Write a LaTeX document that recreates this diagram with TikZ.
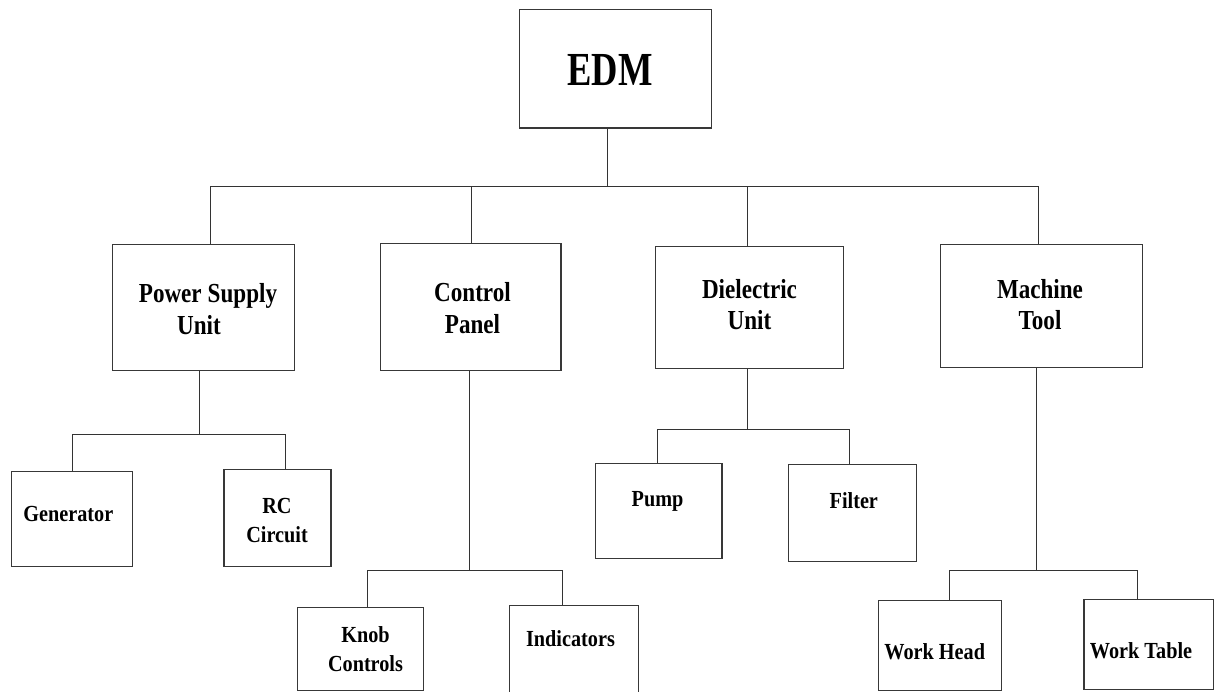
\documentclass[tikz,border=0pt]{standalone}
\usepackage{fontspec}
\setmainfont{Liberation Serif}
\newfontfamily\edmfont{Liberation Serif}[FakeStretch=0.77]
\newfontfamily\midfont{Liberation Serif}[FakeStretch=0.84]
\newfontfamily\smallfont{Liberation Serif}[FakeStretch=0.88]
\begin{document}
\begin{tikzpicture}[x=1pt,y=-1pt,
  box/.style={draw=black!78, line width=1.2pt, inner sep=0pt, anchor=north west},
  link/.style={draw=black!80, line width=1pt},
  toplbl/.style={anchor=base, inner sep=0pt, font={\edmfont\bfseries\fontsize{47.4}{50}\selectfont}},
  midlbl/.style={anchor=base, inner sep=0pt, align=center, font={\midfont\bfseries\fontsize{27.5}{31.6}\selectfont}},
  sublbl/.style={anchor=base, inner sep=0pt, align=center, font={\smallfont\bfseries\fontsize{23}{29.2}\selectfont}}]
\useasboundingbox (0,0) rectangle (1216,692);

% ---- boxes ----
\node[box, minimum width=192pt, minimum height=118.2pt] (edm) at (518.5,9.3) {};
\node[box, minimum width=182pt, minimum height=125.4pt] (psu) at (112,244.3) {};
\node[box, minimum width=180.7pt, minimum height=127pt] (cp) at (379.6,242.7) {};
\node[box, minimum width=188.6pt, minimum height=122.3pt] (du) at (654.6,245.7) {};
\node[box, minimum width=201.6pt, minimum height=122.7pt] (mt) at (939.9,244.3) {};

\node[box, minimum width=120.7pt, minimum height=95pt] (gen) at (11,471) {};
\node[box, minimum width=107pt, minimum height=96.5pt] (rc) at (223.3,469.3) {};
\node[box, minimum width=126pt, minimum height=83.3pt] (knob) at (296.7,606.7) {};
\node[box, minimum width=128.5pt, minimum height=95pt] (ind) at (509,605) {};
\node[box, minimum width=126.3pt, minimum height=95pt] (pump) at (595.1,462.7) {};
\node[box, minimum width=128.1pt, minimum height=96.4pt] (filt) at (787.8,464.3) {};
\node[box, minimum width=123pt, minimum height=90pt] (wh) at (877.7,600) {};
\node[box, minimum width=129.4pt, minimum height=90pt] (wt) at (1083.3,599) {};

% ---- labels (base anchor = baseline of the last line) ----
\node[toplbl] (edm-t) at (610.2,85.7) {EDM};
\node[midlbl] (psu-t) at (208,334.3) {Power\hspace{6pt}Supply\\Unit\hspace*{18pt}};
\node[midlbl] (cp-t) at (472.5,333.3) {Control\\Panel};
\node[midlbl] (du-t) at (749.5,330) {Dielectric\\Unit};
\node[midlbl] (mt-t) at (1040,330) {Machine\\Tool};

\node[sublbl] (gen-t) at (68.3,521.7) {Generator};
\node[sublbl] (rc-t) at (277,542.3) {RC\\Circuit};
\node[sublbl] (knob-t) at (365.5,671.7) {Knob\\Controls};
\node[sublbl] (ind-t) at (570.5,646.7) {Indicators};
\node[sublbl] (pump-t) at (657.6,506.7) {Pump};
\node[sublbl] (filt-t) at (853.8,508.3) {Filter};
\node[sublbl] (wh-t) at (934.7,659.3) {Work Head};
\node[sublbl] (wt-t) at (1141,658.3) {Work Table};

% ---- junction points ----
\coordinate (j0) at (607.8,187);
\coordinate (bl) at (210.8,187);
\coordinate (br) at (1038.9,187);
\coordinate (d-cp) at (471.7,187);
\coordinate (d-du) at (747.3,187);

\coordinate (j-psu) at (199.7,435);
\coordinate (psu-l) at (72.4,435);
\coordinate (psu-r) at (285.9,435);

\coordinate (j-cp) at (469.4,570);
\coordinate (cp-l) at (367.7,570);
\coordinate (cp-r) at (562.3,570);

\coordinate (j-du) at (747.3,430);
\coordinate (du-l) at (657.4,430);
\coordinate (du-r) at (849.5,430);

\coordinate (j-mt) at (1036.5,570);
\coordinate (mt-l) at (949.3,570);
\coordinate (mt-r) at (1137.5,570);

% ---- connectors: first level ----
\draw[link] (j0 |- edm.south) -- (j0);
\draw[link] (bl |- psu.north) -- (bl) -- (br) -- (br |- mt.north);
\draw[link] (d-cp) -- (d-cp |- cp.north);
\draw[link] (d-du) -- (d-du |- du.north);

% ---- connectors: second level ----
\draw[link] (j-psu |- psu.south) -- (j-psu);
\draw[link] (psu-l |- gen.north) -- (psu-l) -- (psu-r) -- (psu-r |- rc.north);

\draw[link] (j-cp |- cp.south) -- (j-cp);
\draw[link] (cp-l |- knob.north) -- (cp-l) -- (cp-r) -- (cp-r |- ind.north);

\draw[link] (j-du |- du.south) -- (j-du);
\draw[link] (du-l |- pump.north) -- (du-l) -- (du-r) -- (du-r |- filt.north);

\draw[link] (j-mt |- mt.south) -- (j-mt);
\draw[link] (mt-l |- wh.north) -- (mt-l) -- (mt-r) -- (mt-r |- wt.north);
\end{tikzpicture}
\end{document}
